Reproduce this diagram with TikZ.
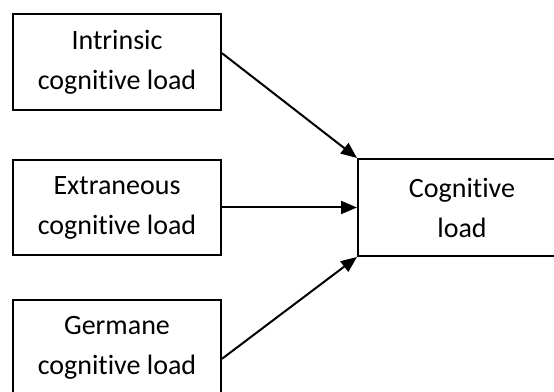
\documentclass[tikz,border=0pt]{standalone}
\usepackage{fontspec}
\setmainfont[Ligatures=NoCommon]{Carlito}
\usetikzlibrary{arrows.meta,calc}
\begin{document}
\begin{tikzpicture}[x=1pt,y=1pt,
  box/.style={draw,line width=2pt,minimum width=208pt,minimum height=96pt,
    inner sep=0pt,align=center,anchor=north west,
    font=\fontsize{28}{40}\selectfont},
  link/.style={line width=2pt,-{Triangle[length=16pt,width=13pt]}}]
\useasboundingbox (0,0) rectangle (554,391);
\clip (0,0) rectangle (554,391);
\fill[white] (0,0) rectangle (554,391);
% source boxes on the left
\node[box] (intr) at (12,378) {Intrinsic\\cognitive load};
\node[box,minimum height=95pt] (extr) at (12,232) {Extraneous\\cognitive load};
\node[box] (germ) at (12,92) {Germane\\cognitive load};
% target box on the right
\node[box,minimum height=97pt] (cog) at (357,233) {Cognitive\\load};
% arrows into the target box
\draw[link] ($(intr.north east)!0.41!(intr.south east)$) -- (cog.north west);
\draw[link] (extr.east) -- (extr.east -| cog.west);
\draw[link] ($(germ.north east)!0.61!(germ.south east)$) -- (cog.south west);
\end{tikzpicture}
\end{document}
